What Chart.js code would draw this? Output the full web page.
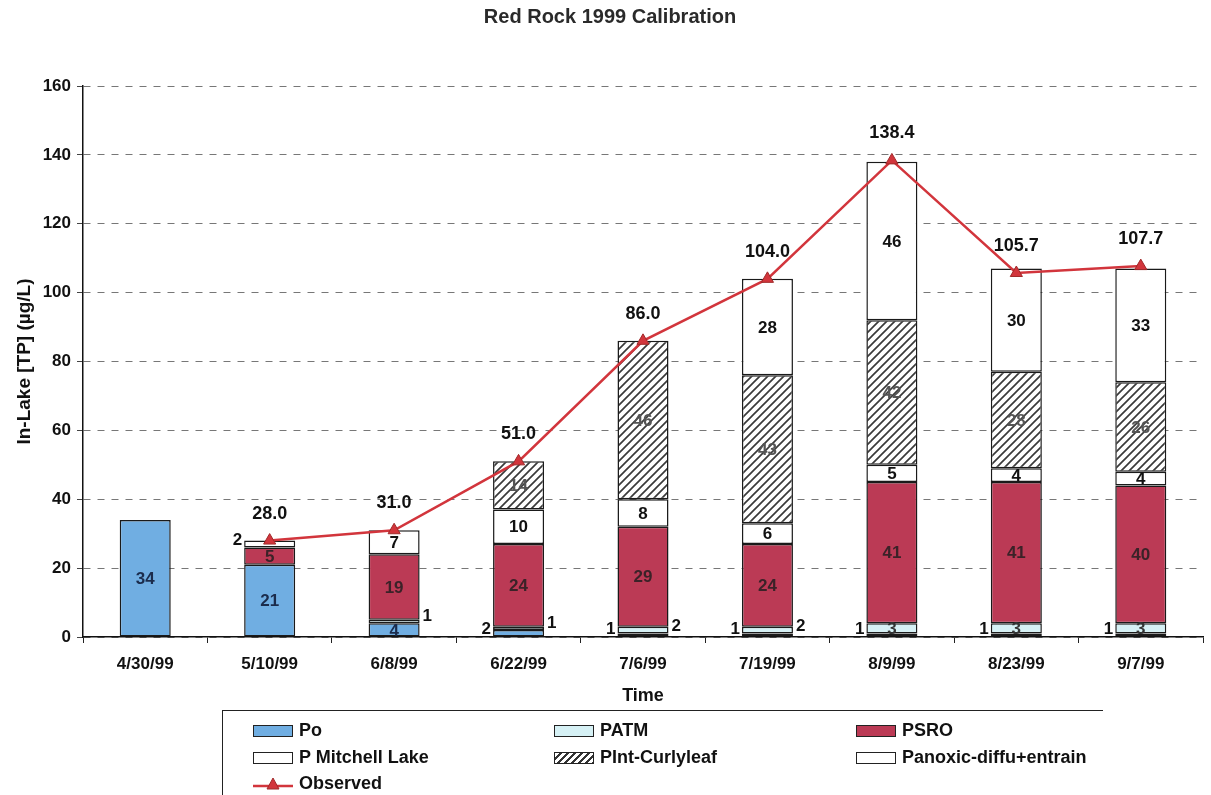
<!DOCTYPE html>
<html>
<head>
<meta charset="utf-8">
<title>Red Rock 1999 Calibration</title>
<script src="https://cdn.jsdelivr.net/npm/chart.js@4.4.1/dist/chart.umd.min.js"></script>
<style>
  body { margin: 0; background: #fff; font-family: Arial, "Liberation Sans", sans-serif; }
  #wrap { position: relative; width: 1211px; height: 795px; overflow: hidden; }
  #legend { position: absolute; left: 222px; top: 710px; width: 880px; height: 100px;
            border-top: 1px solid #222; border-left: 1px solid #222; }
  .item { position: absolute; display: flex; align-items: center; font-weight: bold; font-size: 18px; color: #111; white-space: nowrap; }
  .sw { width: 40px; height: 12px; border: 1.5px solid #222; margin-right: 6px; box-sizing: border-box; }
</style>
</head>
<body>
<div id="wrap">
  <canvas id="chart"></canvas>
  <div id="legend"></div>
</div>
<script>
const dates = ['4/30/99', '5/10/99', '6/8/99', '6/22/99', '7/6/99', '7/19/99', '8/9/99', '8/23/99', '9/7/99'];
const po        = [34, 21, 4, 2, 1, 1, 1, 1, 1];
const patm      = [null, null, 1, 1, 2, 2, 3, 3, 3];
const psro      = [null, 5, 19, 24, 29, 24, 41, 41, 40];
const mitchell  = [null, 2, 7, 10, 8, 6, 5, 4, 4];
const curlyleaf = [null, null, null, 14, 46, 43, 42, 28, 26];
const anoxic    = [null, null, null, null, null, 28, 46, 30, 33];
const observed  = [null, 28.0, 31.0, 51.0, 86.0, 104.0, 138.4, 105.7, 107.7];
const yTicks = [0, 20, 40, 60, 80, 100, 120, 140, 160];

// hatch for the curlyleaf bars
function hatch() {
    const c = document.createElement('canvas');
    c.width = 8; c.height = 8;
    const g = c.getContext('2d');
    g.fillStyle = '#fff';
    g.fillRect(0, 0, 8, 8);
    g.strokeStyle = '#3a3a3a';
    g.lineWidth = 1.7;
    g.beginPath();
    g.moveTo(0, 8); g.lineTo(8, 0);
    g.moveTo(-4, 4); g.lineTo(4, -4);
    g.moveTo(4, 12); g.lineTo(12, 4);
    g.stroke();
    return g.createPattern(c, 'repeat');
}

const RED = '#d2353c';

function bar(label, data, bg, textColor, side) {
    return {
        type: 'bar', label: label, data: data, stack: 'p',
        backgroundColor: bg, borderColor: '#1a1a1a', borderWidth: 1.5, borderSkipped: false,
        textColor: textColor, side: side, order: 2
    };
}

// value labels in / next to the segments, and over the observed points
const labels = {
    id: 'labels',
    afterDatasetsDraw(chart) {
        const ctx = chart.ctx;
        ctx.save();
        ctx.textBaseline = 'middle';
        chart.data.datasets.forEach((ds, i) => {
            const meta = chart.getDatasetMeta(i);
            meta.data.forEach((el, j) => {
                const v = ds.data[j];
                if (v == null) return;
                if (ds.type === 'line') {
                    ctx.fillStyle = '#111';
                    ctx.textAlign = 'center';
                    ctx.font = 'bold 18px Arial';
                    ctx.fillText(v.toFixed(1), el.x, el.y - 27);
                    return;
                }
                let y = (el.y + el.base) / 2;
                let x = el.x;
                ctx.font = 'bold 17px Arial';
                ctx.fillStyle = ds.textColor;
                ctx.textAlign = 'center';
                if (v < 3 && ds.side) {
                    ctx.fillStyle = '#111';
                    if (ds.side === 'left') { ctx.textAlign = 'right'; x = el.x - el.width / 2 - 2; }
                    else { ctx.textAlign = 'left'; x = el.x + el.width / 2 + 3; }
                    y = Math.min(y, el.base - 8);
                }
                ctx.fillText(String(v), x, y + 1);
            });
        });
        ctx.restore();
    }
};

const datasets = [
    bar('Po', po, '#70aee2', '#1b2c4c', 'left'),
    bar('PATM', patm, '#d6f1f5', '#333', 'right'),
    bar('PSRO', psro, '#bb3a55', '#3b2228', null),
    bar('P Mitchell Lake', mitchell, '#ffffff', '#111', 'left'),
    bar('PInt-Curlyleaf', curlyleaf, hatch(), '#555', null),
    bar('Panoxic-diffu+entrain', anoxic, '#ffffff', '#111', null),
    {
        type: 'line', label: 'Observed', data: observed, stack: 'obs', order: 1,
        borderColor: RED, backgroundColor: RED, borderWidth: 2.5,
        pointStyle: 'triangle', pointRadius: 7, pointBorderColor: '#a02a2a', pointBorderWidth: 1,
        spanGaps: false
    }
];

const getChart = document.getElementById('chart').getContext('2d');
const myChart = new Chart(getChart, {
    data: { labels: dates, datasets: datasets },
    options: {
        responsive: true,
        maintainAspectRatio: false,
        animation: false,
        layout: { padding: { left: 9, right: 0, top: 0, bottom: 84 } },
        datasets: { bar: { categoryPercentage: 0.82, barPercentage: 0.5 } },
        plugins: {
            legend: { display: false },
            tooltip: { enabled: false },
            title: {
                display: true,
                text: 'Red Rock 1999 Calibration',
                color: '#2a2a2a',
                font: { family: 'Arial', size: 20, weight: 'bold' },
                padding: { top: 5, bottom: 57 }
            }
        },
        scales: {
            x: {
                stacked: true,
                grid: { display: true, drawOnChartArea: false, drawTicks: true, tickLength: 6, color: '#222', offset: true },
                border: { color: '#111', width: 1.5 },
                ticks: { color: '#111', font: { family: 'Arial', size: 17, weight: 'bold' }, padding: 11, maxRotation: 0 },
                title: { display: true, text: 'Time', color: '#111', font: { family: 'Arial', size: 18, weight: 'bold' }, padding: { top: 0 } }
            },
            y: {
                stacked: true,
                min: 0,
                max: 160,
                afterBuildTicks: s => { s.ticks = yTicks.map(v => ({ value: v })); },
                afterFit: s => { s.width = 74; },
                grid: { color: '#777', lineWidth: 1, tickLength: 6, tickColor: '#444', tickBorderDash: [] },
                border: { color: '#111', width: 1.5, dash: [7, 7] },
                ticks: { color: '#111', font: { family: 'Arial', size: 17, weight: 'bold' }, padding: 6 },
                title: { display: true, text: 'In-Lake [TP] (µg/L)', color: '#111', font: { family: 'Arial', size: 19, weight: 'bold' }, padding: { bottom: 4 } }
            }
        }
    },
    plugins: [labels]
});

// legend grid below the plot
const legendBox = document.getElementById('legend');
const cols = [30, 331, 633];
const rows = [20, 47, 73];
datasets.forEach((ds, i) => {
    const item = document.createElement('div');
    item.className = 'item';
    item.style.left = cols[i % 3] + 'px';
    item.style.top = (rows[Math.floor(i / 3)] - 11) + 'px';
    let sw;
    if (ds.type === 'line') {
        sw = document.createElement('span');
        sw.style.marginRight = '6px';
        sw.style.display = 'flex';
        sw.innerHTML = '<svg width="40" height="14"><line x1="0" y1="9" x2="40" y2="9" stroke="' + RED + '" stroke-width="2.5"/><polygon points="20,1 26,12 14,12" fill="' + RED + '" stroke="#a02a2a"/></svg>';
    } else {
        sw = document.createElement('span');
        sw.className = 'sw';
        if (ds.label === 'PInt-Curlyleaf') sw.style.background = 'repeating-linear-gradient(135deg, #fff 0 3px, #333 3px 5px)';
        else sw.style.background = ds.backgroundColor;
    }
    item.appendChild(sw);
    item.appendChild(document.createTextNode(ds.label));
    legendBox.appendChild(item);
});
</script>
</body>
</html>
